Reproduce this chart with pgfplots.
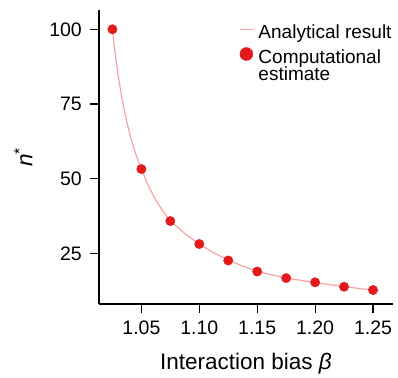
\documentclass[border=0pt]{standalone}
\usepackage{pgfplots}
\pgfplotsset{compat=1.18}
\usepackage{fontspec}
\setmainfont{Liberation Sans}
\definecolor{curvecol}{HTML}{F8A3A3}
\definecolor{markcol}{HTML}{E31A1C}
\pgfplotsset{
  shortline/.style={legend image code/.code={\draw[##1] (0pt,0.27em) -- (13pt,0.27em);}},
  bigdot/.style={legend image code/.code={\draw[##1, mark size=6.5pt] plot coordinates {(6.5pt,0.36em)};}},
}
\begin{document}
\begin{tikzpicture}
\path[use as bounding box] (-99pt,-73pt) rectangle (299pt,304pt);
\begin{axis}[
  scale only axis,
  width=293.7pt, height=294pt,
  xmin=1.0134, xmax=1.267,
  ymin=8.03, ymax=106.46,
  axis x line*=bottom, axis y line*=left,
  axis line style={line width=1.2pt, black},
  every tick/.style={line width=1.2pt, black},
  tick align=outside,
  major tick length=9pt,
  xtick={1.05,1.10,1.15,1.20,1.25},
  xticklabels={1.05,1.10,1.15,1.20,1.25},
  ytick={25,50,75,100},
  /pgf/number format/assume math mode=true,
  tick label style={font=\fontsize{19.5}{22}\selectfont},
  xticklabel style={inner sep=0pt, yshift=-7.5pt},
  yticklabel style={inner sep=0pt, xshift=-8pt},
  xlabel={Interaction bias \textit{β}},
  ylabel={\textit{n}\textsuperscript{*}},
  label style={font=\fontsize{22.5}{26}\selectfont},
  xlabel style={at={(axis description cs:0.5,-0.2211)}, anchor=base},
  ylabel style={at={(axis description cs:-0.227,0.5)}, anchor=base},
  legend style={draw=none, fill=none, at={(rel axis cs:0.477,0.959)}, anchor=north west,
    inner sep=0pt, font=\fontsize{19}{19}\selectfont, row sep=6pt, column sep=3pt,
    cells={anchor=base west}},
  legend cell align=left,
]
\addplot[curvecol, line width=1.2pt, mark=none, shortline]
coordinates {
(1.025,100) (1.0275,91.5) (1.03,84.4) (1.0325,78.4) (1.035,73.3) (1.0375,68.8)
(1.04,64.9) (1.0425,61.5) (1.045,58.4) (1.0475,55.7) (1.05,53.2) (1.05625,47.4)
(1.0625,42.8) (1.06875,39.0) (1.075,35.8) (1.0875,31.6) (1.1,28.1) (1.1125,25.2)
(1.125,22.7) (1.1375,20.7) (1.15,19.0) (1.1625,17.8) (1.175,16.7) (1.1875,15.95)
(1.2,15.2) (1.2125,14.5) (1.225,13.85) (1.2375,13.25) (1.25,12.7) (1.255,12.5)
};
\addlegendentry{Analytical result}
\addplot[only marks, mark=*, mark size=4.7pt, color=markcol, mark options={draw=markcol, fill=markcol}, bigdot]
coordinates {
(1.025,100) (1.05,53.2) (1.075,35.8) (1.1,28.1) (1.125,22.6)
(1.15,18.9) (1.175,16.7) (1.2,15.3) (1.225,13.8) (1.25,12.7)
};
\addlegendentry{\parbox[t]{4cm}{Computational\\[-2pt]estimate}}
\end{axis}
\end{tikzpicture}
\end{document}
